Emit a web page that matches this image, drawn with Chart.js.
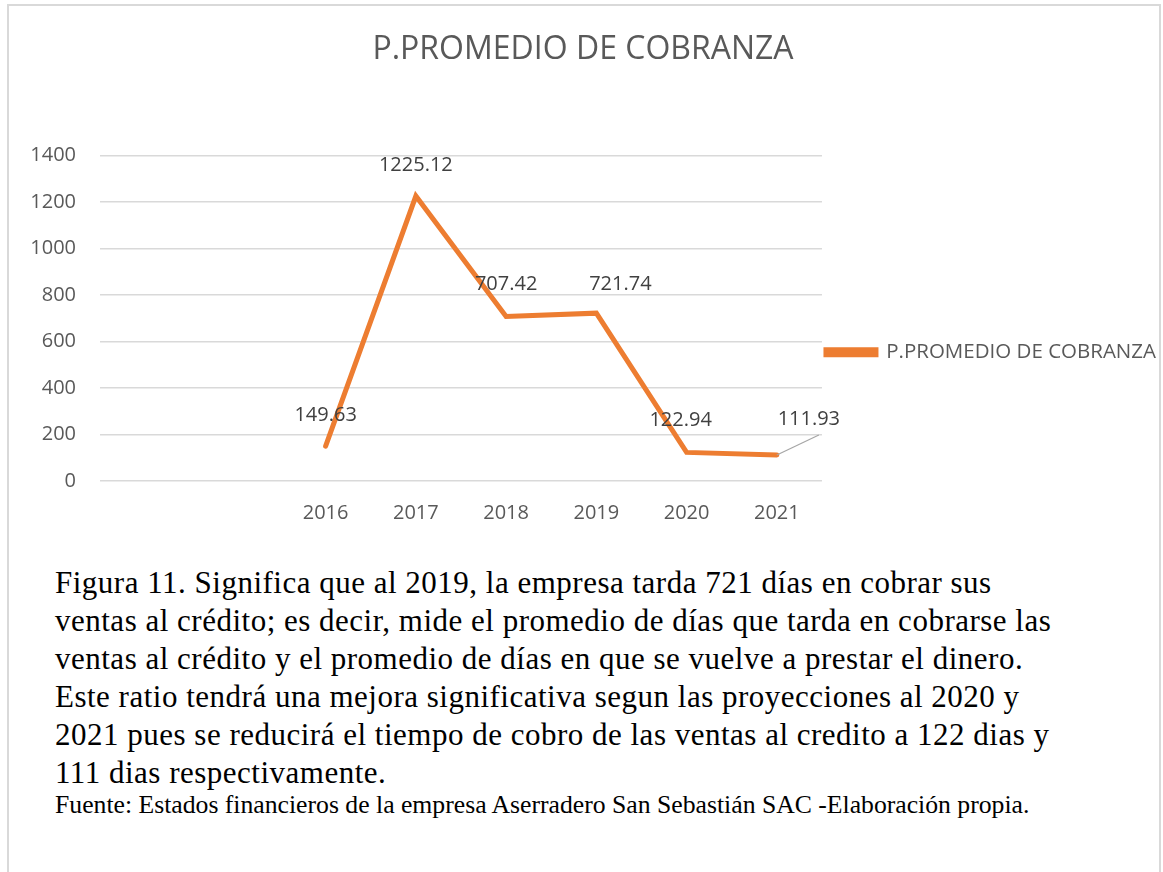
<!DOCTYPE html>
<html>
<head>
<meta charset="utf-8">
<script src="https://cdn.jsdelivr.net/npm/chart.js@4.4.1/dist/chart.umd.min.js"></script>
<style>
  body { margin: 0; background: #fff; width: 1163px; height: 872px; overflow: hidden; position: relative; }
  #frame { position: absolute; left: 7px; top: 4px; width: 1150px; height: 900px; border: 2px solid #d9d9d9; }
  #chartBox { position: absolute; left: 0; top: 0; width: 1166px; height: 545px; }
  #caption { position: absolute; left: 55px; top: 564px; font-family: "Liberation Serif", "Times New Roman", serif; font-size: 31px; letter-spacing: 0.5px; line-height: 38px; color: #000; white-space: nowrap; }
  #source { position: absolute; left: 55px; top: 790px; font-family: "Liberation Serif", "Times New Roman", serif; font-size: 25.7px; line-height: 30px; color: #000; white-space: nowrap; }
</style>
</head>
<body>
<div id="frame"></div>
<div id="chartBox"><canvas id="myChart"></canvas></div>
<div id="caption">Figura 11. Significa que al 2019, la empresa tarda 721 días en cobrar sus<br>ventas al crédito; es decir, mide el promedio de días que tarda en cobrarse las<br>ventas al crédito y el promedio de días en que se vuelve a prestar el dinero.<br>Este ratio tendrá una mejora significativa segun las proyecciones al 2020 y<br>2021 pues se reducirá el tiempo de cobro de las ventas al credito a 122 dias y<br>111 dias respectivamente.</div>
<div id="source">Fuente: Estados financieros de la empresa Aserradero San Sebastián SAC -Elaboración propia.</div>
<script>
// DATA (two empty slots before 2016, as in the original sheet)
const years = ['', '', '2016', '2017', '2018', '2019', '2020', '2021'];
const cobranza = [null, null, 149.63, 1225.12, 707.42, 721.74, 122.94, 111.93];
const yTicks = [0, 200, 400, 600, 800, 1000, 1200, 1400];
const seriesName = 'P.PROMEDIO DE COBRANZA';

// label nudges relative to each point (px), like Excel's manual label moves
const labelShift = {
    2: [0, -31], 3: [0, -31], 4: [0, -32], 5: [24, -29], 6: [-6, -32], 7: [32, -36]
};

const GREY = '#595959';

// DATA LABELS
const pointLabels = {
    id: 'pointLabels',
    afterDatasetsDraw(chart) {
        const ctx = chart.ctx;
        const meta = chart.getDatasetMeta(0);
        ctx.save();
        ctx.font = '20px "Open Sans"';
        ctx.fillStyle = '#404040';
        ctx.textAlign = 'center';
        ctx.textBaseline = 'middle';
        meta.data.forEach((pt, i) => {
            const v = cobranza[i];
            if (v === null) return;
            const s = labelShift[i] || [0, -31];
            const lx = pt.x + s[0];
            const ly = pt.y + s[1];
            if (i === 7) {
                // leader line for the moved label
                ctx.strokeStyle = '#a6a6a6';
                ctx.lineWidth = 1.2;
                ctx.beginPath();
                ctx.moveTo(pt.x, pt.y);
                ctx.lineTo(lx + 10, ly + 16);
                ctx.stroke();
            }
            ctx.fillText(v.toFixed(2), lx, ly);
        });
        ctx.restore();
    }
};

let ctx = document.getElementById('myChart').getContext('2d');
new Chart(ctx, {
    type: 'line',
    data: {
        labels: years,
        datasets: [{
            label: seriesName,
            data: cobranza,
            borderColor: '#ED7D31',
            backgroundColor: '#ED7D31',
            borderWidth: 5,
            borderCapStyle: 'round',
            pointRadius: 0,
            tension: 0,
            spanGaps: false
        }]
    },
    options: {
        responsive: true,
        maintainAspectRatio: false,
        animation: false,
        layout: { padding: { left: 0, right: 0, top: 0, bottom: 0 } },
        plugins: {
            title: {
                display: true,
                text: seriesName,
                color: GREY,
                font: { family: 'Open Sans', size: 32, weight: 'normal' },
                padding: { top: 31, bottom: 86 }
            },
            legend: {
                position: 'right',
                fullSize: false,
                maxWidth: 420,
                title: { display: true, text: '', padding: 22, font: { size: 20 } },
                labels: {
                    boxWidth: 50,
                    boxHeight: 5,
                    padding: 4,
                    color: GREY,
                    font: { family: 'Open Sans', size: 20.5 }
                }
            },
            tooltip: { enabled: false }
        },
        scales: {
            x: {
                offset: true,
                grid: { display: false, drawTicks: false },
                border: { display: false },
                ticks: { color: GREY, padding: 20, font: { family: 'Open Sans', size: 20 }, maxRotation: 0 }
            },
            y: {
                min: 0,
                max: 1400,
                afterFit: (s) => { s.width = 100; },
                afterBuildTicks: (s) => { s.ticks = yTicks.map(v => ({ value: v })); },
                grid: { color: '#d9d9d9', lineWidth: 1.5, drawTicks: false },
                border: { display: false },
                ticks: { color: GREY, padding: 24, font: { family: 'Open Sans', size: 20 }, callback: (v) => String(v) }
            }
        }
    },
    plugins: [pointLabels]
});
</script>
</body>
</html>
